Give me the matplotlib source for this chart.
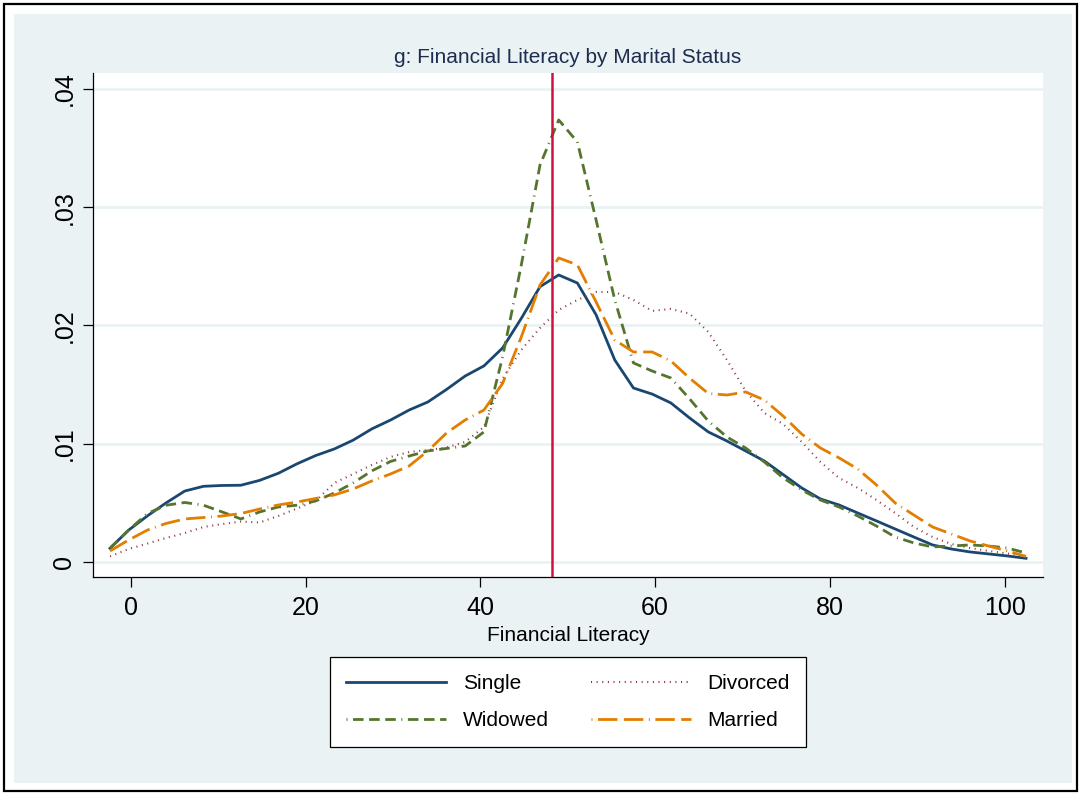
import matplotlib
matplotlib.use("Agg")
import matplotlib.pyplot as plt
from matplotlib.patches import Rectangle
from matplotlib.lines import Line2D

plt.rcParams["font.family"] = ["Liberation Sans", "DejaVu Sans"]

# -------------------------------------------------
# DATA (kernel density estimates)
# -------------------------------------------------
lit_grid = [
    -2.4, -0.26, 1.88, 4.02, 6.16, 8.3, 10.44, 12.58, 14.72, 16.86,
    19.0, 21.14, 23.28, 25.42, 27.56, 29.7, 31.84, 33.98, 36.12, 38.26,
    40.4, 42.54, 44.68, 46.82, 48.96, 51.1, 53.24, 55.38, 57.52, 59.66,
    61.8, 63.94, 66.08, 68.22, 70.36, 72.5, 74.64, 76.78, 78.92, 81.06,
    83.2, 85.34, 87.48, 89.62, 91.76, 93.9, 96.04, 98.18, 100.32, 102.46,
]

single = [
    0.00116, 0.0027, 0.0039, 0.0050, 0.0060, 0.0064, 0.00647, 0.00649, 0.0069, 0.0075,
    0.0083, 0.0090, 0.00956, 0.0103, 0.01125, 0.0120, 0.01285, 0.01353, 0.01459, 0.01573,
    0.01658, 0.0181, 0.0206, 0.02328, 0.02427, 0.02359, 0.0209, 0.01708, 0.01471, 0.0142,
    0.01345, 0.01218, 0.0110, 0.01023, 0.00939, 0.00854, 0.0074, 0.00626, 0.00533, 0.00482,
    0.00414, 0.00347, 0.00279, 0.00211, 0.00144, 0.0011, 0.00085, 0.00068, 0.00051, 0.00031,
]

divorced = [
    0.00047, 0.0011, 0.00156, 0.00203, 0.00245, 0.00296, 0.00321, 0.00342, 0.00334, 0.00389,
    0.00452, 0.00516, 0.00668, 0.00744, 0.0082, 0.00888, 0.0093, 0.00947, 0.00968, 0.01015,
    0.01142, 0.0155, 0.01793, 0.01979, 0.02131, 0.02216, 0.02283, 0.02283, 0.02216, 0.02123,
    0.0214, 0.02100, 0.01945, 0.01708, 0.01446, 0.0126, 0.01167, 0.01015, 0.00846, 0.0071,
    0.00626, 0.00524, 0.00414, 0.00296, 0.00211, 0.00152, 0.00118, 0.00093, 0.00072, 0.00047,
]

widowed = [
    0.00116, 0.0027, 0.0041, 0.0048, 0.00503, 0.0048, 0.00423, 0.00364, 0.00423, 0.00465,
    0.0048, 0.00516, 0.00583, 0.00668, 0.0077, 0.0085, 0.00896, 0.00939, 0.0096, 0.00981,
    0.0110, 0.01734, 0.02512, 0.03357, 0.03738, 0.03552, 0.02892, 0.02216, 0.01683, 0.01615,
    0.01556, 0.0138, 0.01192, 0.01057, 0.00964, 0.00846, 0.00712, 0.00609, 0.00524, 0.00465,
    0.00389, 0.00304, 0.00211, 0.00161, 0.00127, 0.00135, 0.00144, 0.00135, 0.00118, 0.00076,
]

married = [
    0.00093, 0.00186, 0.0027, 0.00326, 0.00364, 0.00376, 0.00389, 0.0041, 0.00448, 0.00482,
    0.00507, 0.00537, 0.00567, 0.00617, 0.00685, 0.00744, 0.00812, 0.00939, 0.01091, 0.01201,
    0.01285, 0.0151, 0.01903, 0.02342, 0.02571, 0.02512, 0.02199, 0.01877, 0.01776, 0.01776,
    0.0170, 0.01555, 0.01425, 0.01412, 0.01438, 0.0137, 0.01235, 0.01082, 0.00964, 0.0088,
    0.00786, 0.00651, 0.00499, 0.00397, 0.00296, 0.00237, 0.00178, 0.00135, 0.00093, 0.00047,
]

mean_line = 48.23

x_ticks = [0, 20, 40, 60, 80, 100]
y_ticks = [0, 0.01, 0.02, 0.03, 0.04]
y_labels = ["0", ".01", ".02", ".03", ".04"]

# -------------------------------------------------
# COLORS (Stata s2color-ish)
# -------------------------------------------------
BG = "#EAF2F3"
NAVY = "#1A476F"
MAROON = "#90353B"
GREEN = "#55752F"
ORANGE = "#E37E00"
RED = "#CE123E"

W, H = 1081, 794
fig = plt.figure(figsize=(W / 100, H / 100), dpi=100)
fig.patch.set_facecolor("white")

def px_rect(x0, y0, x1, y1, **kw):
    return Rectangle((x0 / W, 1 - y1 / H), (x1 - x0) / W, (y1 - y0) / H,
                     transform=fig.transFigure, zorder=-10, **kw)

fig.add_artist(px_rect(4, 4, 1077, 791, facecolor="white", edgecolor="black", linewidth=1.6))
fig.add_artist(px_rect(14, 14, 1072, 783, facecolor=BG, edgecolor="none"))

# plot region
ax_l, ax_r, ax_t, ax_b = 93, 1043, 73, 577
ax = fig.add_axes([ax_l / W, 1 - ax_b / H, (ax_r - ax_l) / W, (ax_b - ax_t) / H])
ax.set_zorder(1)
ax.set_facecolor("white")
ax.set_xlim(-4.35, 104.4)
ax.set_ylim(-0.00127, 0.04135)

for v in y_ticks:
    ax.axhline(v, color=BG, linewidth=2.0, zorder=1)

lw = 2.0
GREEN_DASH = (3.8, 2.0, 3.8, 2.0, 3.8, 2.0, 0.35, 2.0)
ORANGE_DASH = (7.0, 2.3, 7.0, 2.0, 0.35, 2.0)
DOT = (0.5, 2.2)

ax.plot(lit_grid, single, color=NAVY, lw=lw, label="Single", zorder=3,
        solid_joinstyle="round")
ax.plot(lit_grid, divorced, color=MAROON, lw=1.5, linestyle=(0, DOT),
        label="Divorced", zorder=3)
ax.plot(lit_grid, widowed, color=GREEN, lw=lw, linestyle=(0, GREEN_DASH),
        label="Widowed", zorder=3)
ax.plot(lit_grid, married, color=ORANGE, lw=lw, linestyle=(0, ORANGE_DASH),
        label="Married", zorder=3)

ax.axvline(mean_line, color=RED, lw=1.8, zorder=4)

for s in ["top", "right"]:
    ax.spines[s].set_visible(False)
for s in ["left", "bottom"]:
    ax.spines[s].set_color("black")
    ax.spines[s].set_linewidth(0.9)

ax.set_xticks(x_ticks)
ax.set_yticks(y_ticks)
ax.set_yticklabels(y_labels, rotation=90, va="center")
ax.tick_params(axis="both", direction="out", length=7, width=0.9,
               labelsize=18, colors="black")
ax.tick_params(axis="x", pad=7)
ax.tick_params(axis="y", pad=5)

ax.set_xlabel("Financial Literacy", fontsize=15, labelpad=4)
ax.set_title("g: Financial Literacy by Marital Status", fontsize=15,
             color="#1E2D4F", pad=7)

handles = [
    Line2D([], [], color=NAVY, lw=lw),
    Line2D([], [], color=GREEN, lw=lw, linestyle=(0, (0.35, 2.0) + GREEN_DASH[:6])),
    Line2D([], [], color=MAROON, lw=1.5, linestyle=(0, DOT)),
    Line2D([], [], color=ORANGE, lw=lw, linestyle=(0, (0.35, 2.0, 7.0, 2.3, 7.0, 2.0))),
]
labels = ["Single", "Widowed", "Divorced", "Married"]
leg = fig.legend(handles, labels, ncol=2, loc="center",
                 bbox_to_anchor=(568 / W, 1 - 702 / H), fontsize=15,
                 handlelength=4.8, handletextpad=0.8, columnspacing=2.0,
                 labelspacing=0.85, borderpad=0.8, fancybox=False,
                 framealpha=1, edgecolor="black")
leg.get_frame().set_linewidth(0.9)

fig.savefig("out.png", dpi=100, facecolor="white")
